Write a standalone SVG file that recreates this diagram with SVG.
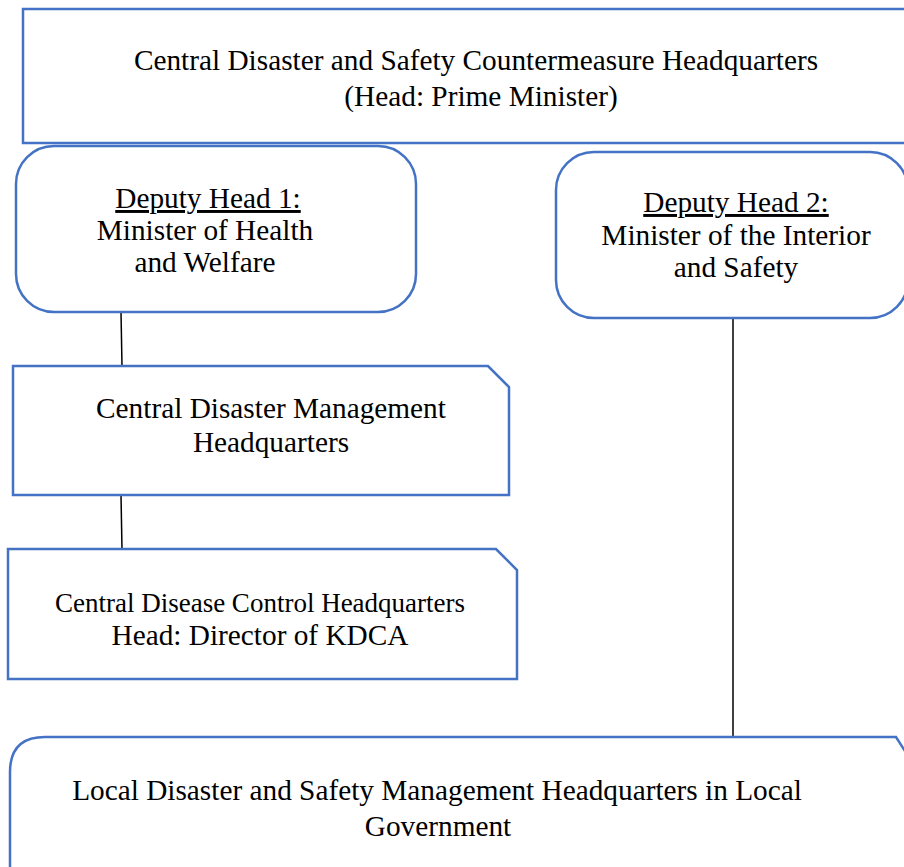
<svg xmlns="http://www.w3.org/2000/svg" width="904" height="867" viewBox="0 0 904 867">
  <style>
    .box { fill: #ffffff; stroke: #4472C4; stroke-width: 2.5; }
    .lbl { font-family: "Liberation Serif", "Times New Roman", serif; font-size: 29.3px; fill: #000000; text-anchor: middle; }
    .ul { text-decoration: underline; }
    .link { stroke: #000000; stroke-width: 1.5; fill: none; }
  </style>
  <rect width="904" height="867" fill="#ffffff"/>

  <!-- connectors -->
  <g id="connectors">
    <line class="link" x1="121" y1="312" x2="122" y2="366"/>
    <line class="link" x1="121" y1="495" x2="122" y2="549"/>
    <line class="link" x1="733" y1="312" x2="733" y2="737"/>
  </g>

  <g id="central-hq">
    <rect class="box" x="23" y="9" width="920" height="134"/>
    <text class="lbl" x="476" y="70">Central Disaster and Safety Countermeasure Headquarters</text>
    <text class="lbl" x="481" y="106">(Head: Prime Minister)</text>
  </g>

  <g id="deputy-1">
    <rect class="box" x="16" y="146" width="400" height="166" rx="38" ry="38"/>
    <text class="lbl ul" x="208" y="208">Deputy Head 1:</text>
    <text class="lbl" x="205" y="240">Minister of Health</text>
    <text class="lbl" x="205" y="272">and Welfare</text>
  </g>

  <g id="deputy-2">
    <rect class="box" x="556" y="152" width="352" height="166" rx="38" ry="38"/>
    <text class="lbl ul" x="736" y="212">Deputy Head 2:</text>
    <text class="lbl" x="736" y="245">Minister of the Interior</text>
    <text class="lbl" x="736" y="277">and Safety</text>
  </g>

  <g id="disaster-mgmt-hq">
    <path class="box" d="M13,366 L488,366 L509,387 L509,495 L13,495 Z"/>
    <text class="lbl" x="271" y="418">Central Disaster Management</text>
    <text class="lbl" x="271" y="452">Headquarters</text>
  </g>

  <g id="disease-control-hq">
    <path class="box" d="M8,549 L496,549 L517,570 L517,679 L8,679 Z"/>
    <text class="lbl" x="260" y="612" style="font-size:27px">Central Disease Control Headquarters</text>
    <text class="lbl" x="260" y="645">Head: Director of KDCA</text>
  </g>

  <g id="local-hq">
    <path class="box" d="M10,880 L10,772 Q10,737 45,737 L896,737 L930,790 L930,880 Z"/>
    <text class="lbl" x="437" y="800">Local Disaster and Safety Management Headquarters in Local</text>
    <text class="lbl" x="438" y="836">Government</text>
  </g>
</svg>
